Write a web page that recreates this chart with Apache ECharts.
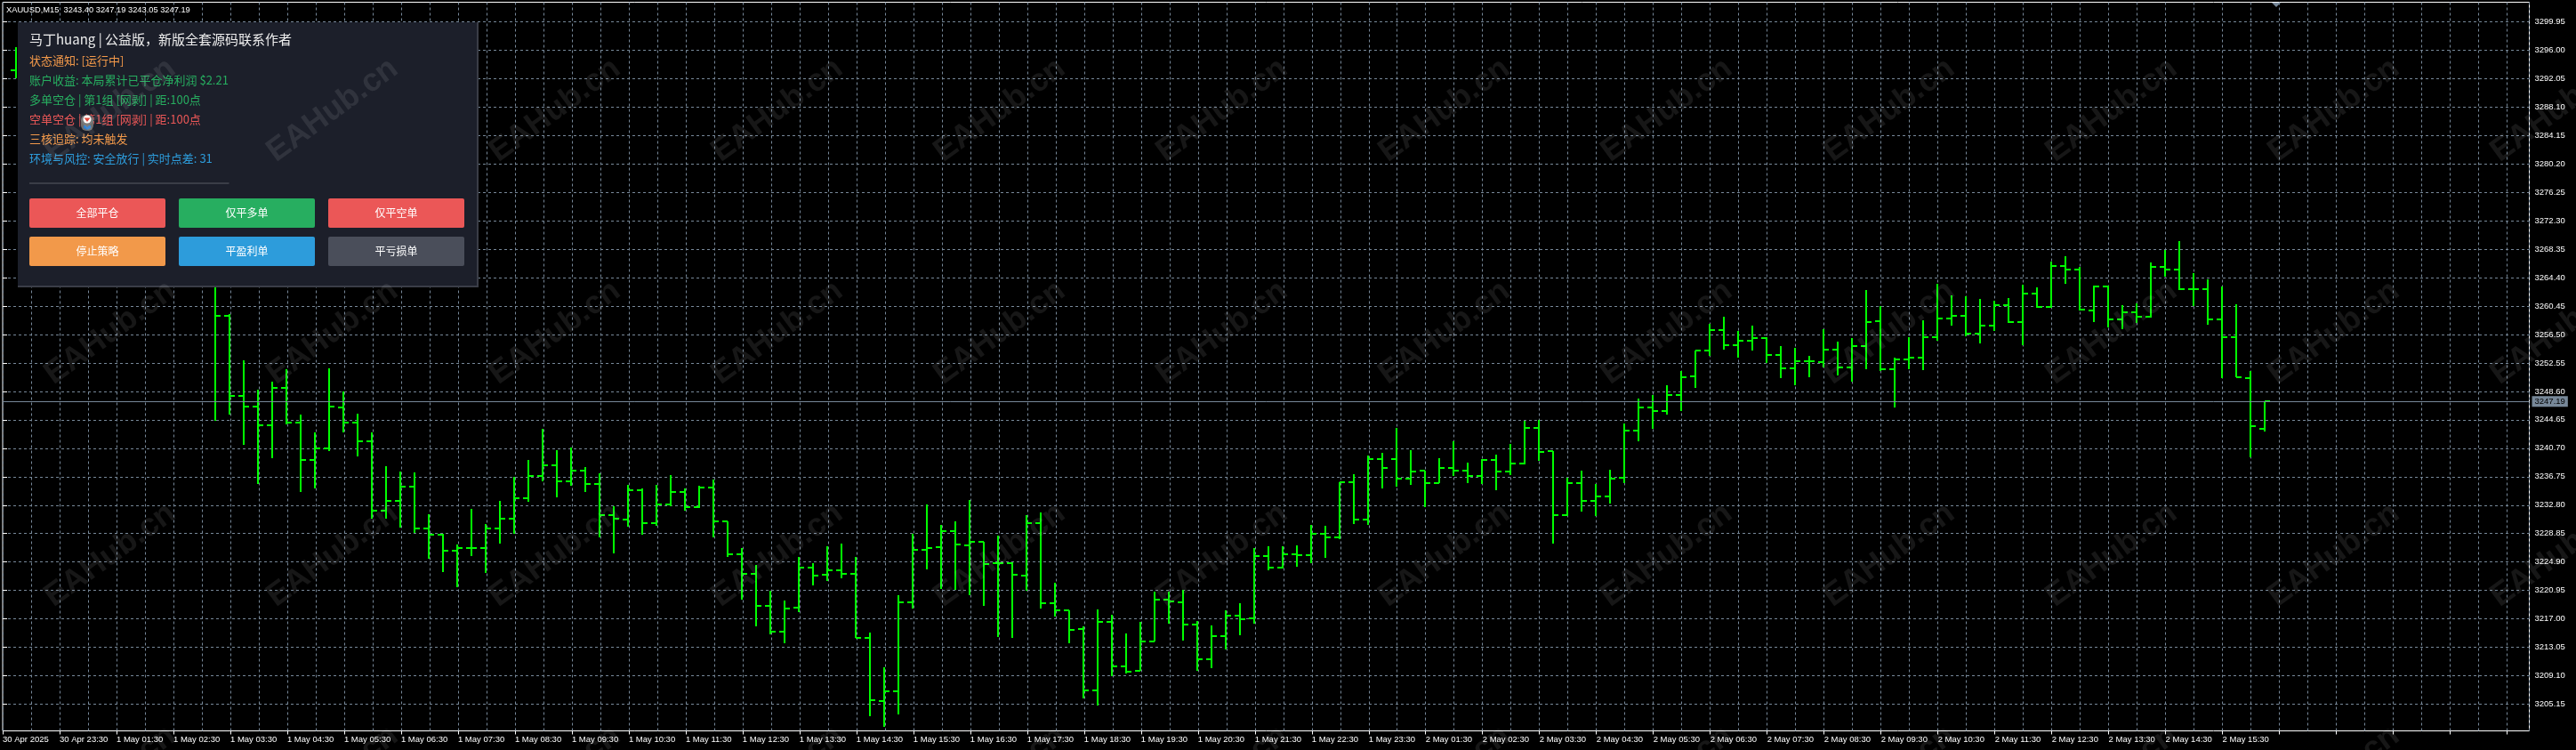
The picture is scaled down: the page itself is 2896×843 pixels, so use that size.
<!DOCTYPE html>
<html>
<head>
<meta charset="utf-8">
<title>XAUUSD,M15</title>
<style>html,body{margin:0;padding:0;background:#000;overflow:hidden}#chart{width:2896px;height:843px}</style>
<script src="https://cdn.jsdelivr.net/npm/echarts@6/dist/echarts.min.js"></script>
</head>
<body>
<div id="chart"></div>
<script>
// Bars 1..13 sit behind the panel and cannot be read, so they stay null.
const opens = [3293.23,null,null,null,null,null,null,null,null,null,null,null,null,null,null,
3259.04,3248.01,3246.52,3243.93,3249.12,3244.26,3239.07,3240.63,3246.40,3244.26,3241.70,3232.07,3233.38,3235.40,3229.59,
3228.73,3226.51,3226.88,3226.79,3229.59,3230.95,3233.80,3236.84,3238.37,3236.14,3237.63,3235.73,3231.45,3230.75,3234.83,
3230.34,3232.89,3234.66,3232.56,3235.28,3230.50,3226.01,3223.29,3218.85,3215.22,3218.60,3224.16,3223.17,3223.79,3223.29,
3214.36,3205.62,3206.98,3219.34,3226.63,3227.00,3229.23,3227.25,3227.74,3224.69,3224.78,3223.05,3230.34,3219.18,3218.23,
3215.55,3207.07,3216.58,3210.44,3209.78,3213.90,3219.67,3219.30,3216.25,3211.43,3214.60,3217.45,3217.12,3225.77,3224.12,
3225.97,3225.85,3228.81,3228.32,3236.03,3230.84,3239.24,3239.24,3236.52,3237.55,3235.90,3237.96,3237.63,3236.89,3239.03,
3237.51,3238.62,3243.56,3240.27,3231.41,3235.90,3233.43,3234.05,3236.64,3243.15,3246.36,3245.87,3248.13,3250.68,3254.27,
3257.15,3255.01,3255.67,3255.99,3253.65,3251.79,3252.78,3252.66,3254.43,3251.92,3254.88,3258.34,3251.67,3253.03,3253.32,
3256.12,3258.71,3259.13,3256.66,3257.77,3260.61,3258.22,3262.13,3260.32,3266.05,3265.47,3259.83,3263.16,3258.55,3259.62,
3258.95,3265.92,3265.55,3262.79,3262.79,3258.63,3256.16,3250.44,3243.40];
const highs = [3296.40,null,null,null,null,null,null,null,null,null,null,null,null,null,3266.00,
3259.29,3252.87,3248.79,3249.94,3251.63,3245.37,3242.90,3251.80,3248.58,3245.45,3242.90,3238.20,3237.46,3237.34,3231.53,
3228.81,3227.33,3232.23,3230.21,3233.34,3236.72,3239.07,3243.35,3240.43,3240.76,3238.04,3237.21,3232.60,3235.57,3235.07,
3235.57,3236.93,3235.16,3235.44,3236.35,3230.50,3226.84,3224.53,3220.95,3219.55,3225.60,3224.69,3227.08,3227.41,3225.60,
3215.06,3210.28,3220.25,3228.81,3232.85,3230.05,3230.54,3233.55,3227.74,3228.57,3224.90,3231.41,3231.78,3221.98,3218.23,
3215.96,3218.31,3217.57,3214.97,3216.62,3220.78,3220.78,3220.99,3216.70,3216.09,3218.15,3219.18,3226.88,3227.08,3227.08,
3227.21,3230.05,3229.97,3235.94,3237.05,3239.73,3240.02,3243.52,3240.43,3237.63,3239.28,3241.67,3238.70,3239.16,3239.77,
3241.26,3244.47,3244.63,3240.35,3236.64,3237.55,3235.78,3237.67,3244.14,3247.56,3248.05,3249.45,3251.39,3254.27,3257.97,
3258.96,3256.98,3257.72,3256.16,3254.88,3254.64,3253.52,3257.27,3255.50,3255.99,3262.67,3260.44,3253.24,3256.12,3258.47,
3263.53,3261.93,3261.80,3261.43,3261.15,3261.56,3263.41,3263.00,3266.62,3267.36,3265.84,3263.25,3263.33,3260.53,3260.77,
3266.46,3268.27,3269.42,3265.06,3264.11,3263.16,3260.65,3251.47,3247.19];
const lows = [3292.08,null,null,null,null,null,null,null,null,null,null,null,null,null,3244.55,
3245.37,3241.17,3235.73,3239.32,3243.97,3234.66,3235.07,3240.34,3242.94,3239.60,3230.95,3230.95,3229.72,3228.98,3225.31,
3223.54,3221.36,3225.68,3223.42,3227.41,3228.81,3233.30,3236.14,3233.92,3235.53,3234.66,3228.32,3226.05,3229.76,3228.65,
3229.97,3232.68,3232.02,3232.44,3228.32,3225.60,3219.67,3216.00,3214.81,3213.66,3217.98,3221.69,3222.26,3222.68,3214.32,
3203.52,3202.04,3203.77,3218.48,3223.91,3221.15,3220.99,3220.29,3218.85,3214.48,3214.40,3220.91,3218.48,3217.28,3213.66,
3206.00,3205.01,3209.00,3209.46,3209.78,3213.82,3216.38,3213.99,3209.74,3210.20,3212.75,3214.77,3216.38,3223.79,3224.04,
3224.28,3224.74,3225.52,3228.12,3230.22,3230.09,3235.16,3235.41,3235.65,3232.57,3235.82,3236.89,3235.90,3235.74,3234.87,
3236.97,3238.50,3238.91,3227.50,3231.29,3231.91,3231.25,3233.06,3235.82,3241.71,3243.44,3245.42,3245.87,3249.12,3253.52,
3254.43,3253.32,3254.31,3252.58,3250.48,3249.49,3250.60,3251.96,3250.81,3249.94,3251.71,3251.46,3246.40,3251.71,3251.59,
3255.67,3257.77,3256.29,3255.30,3257.03,3258.06,3255.01,3260.20,3260.24,3263.58,3259.79,3258.26,3257.44,3257.27,3258.06,
3258.88,3264.48,3262.67,3260.45,3257.89,3250.48,3250.52,3239.44,3243.05];
const closes = [null,null,null,null,null,null,null,null,null,null,null,null,null,null,3259.04,
3248.01,3246.52,3243.93,3249.12,3244.26,3239.07,3240.63,3246.52,3244.26,3241.70,3232.07,3233.38,3235.40,3229.59,3228.73,
3226.51,3226.88,3226.79,3229.59,3230.95,3233.80,3236.84,3238.37,3236.14,3237.63,3235.73,3231.45,3230.87,3234.83,3230.34,
3232.89,3234.66,3232.56,3235.28,3230.50,3226.01,3223.29,3218.85,3215.22,3218.48,3224.16,3223.05,3223.79,3223.29,3214.36,
3205.75,3206.98,3219.34,3226.63,3226.84,3229.23,3227.33,3227.74,3224.61,3224.78,3223.13,3230.34,3219.18,3218.23,3215.47,
3207.07,3216.58,3210.44,3209.70,3213.90,3219.67,3219.46,3216.25,3211.43,3214.60,3217.45,3216.95,3225.77,3224.12,3225.97,
3225.89,3228.81,3228.32,3235.94,3230.84,3239.24,3237.96,3236.52,3237.51,3235.90,3237.96,3237.63,3236.89,3239.03,3237.51,
3238.62,3243.56,3240.19,3231.41,3235.90,3233.43,3234.05,3236.52,3243.15,3246.36,3245.87,3248.13,3250.61,3254.27,3257.15,
3255.01,3255.67,3255.99,3253.65,3251.79,3252.78,3252.74,3254.43,3251.92,3254.88,3258.22,3251.67,3253.03,3253.32,3256.12,
3258.71,3259.13,3256.66,3257.77,3260.61,3258.22,3262.13,3260.32,3266.05,3265.47,3259.91,3263.16,3258.55,3259.62,3259.00,
3265.92,3265.55,3262.79,3262.79,3258.63,3256.16,3250.56,3243.81,3247.19];

const priceTicks = [3299.95,3296.00,3292.05,3288.10,3284.15,3280.20,3276.25,3272.30,3268.35,3264.40,3260.45,3256.50,3252.55,
3248.60,3244.65,3240.70,3236.75,3232.80,3228.85,3224.90,3220.95,3217.00,3213.05,3209.10,3205.15];
const timeLabels = ['30 Apr 2025','30 Apr 23:30','1 May 01:30','1 May 02:30','1 May 03:30','1 May 04:30','1 May 05:30','1 May 06:30',
'1 May 07:30','1 May 08:30','1 May 09:30','1 May 10:30','1 May 11:30','1 May 12:30','1 May 13:30','1 May 14:30','1 May 15:30',
'1 May 16:30','1 May 17:30','1 May 18:30','1 May 19:30','1 May 20:30','1 May 21:30','1 May 22:30','1 May 23:30','2 May 01:30',
'2 May 02:30','2 May 03:30','2 May 04:30','2 May 05:30','2 May 06:30','2 May 07:30','2 May 08:30','2 May 09:30','2 May 10:30',
'2 May 11:30','2 May 12:30','2 May 13:30','2 May 14:30','2 May 15:30'];
const lastPrice = 3247.19;
const headerText = 'XAUUSD,M15  3243.40 3247.19 3243.05 3247.19';
const panelTitle = '马丁huang | 公益版，新版全套源码联系作者';
const panelLines = ['状态通知: [运行中]','账户收益: 本局累计已平仓净利润 $2.21','多单空仓 | 第1组 [网剥] | 距:100点','空单空仓 | 第1组 [网剥] | 距:100点','三核追踪: 均未触发','环境与风控: 安全放行 | 实时点差: 31'];
const panelLineColors = ['#F2994A','#27AE60','#27AE60','#EB5757','#F2994A','#2D9CDB'];
const buttonLabels = ['全部平仓','仅平多单','仅平空单','停止策略','平盈利单','平亏损单'];
const buttonColors = ['#EB5757','#27AE60','#EB5757','#F2994A','#2D9CDB','#4A4E5A'];
const watermark = 'EAHub.cn';

const MONO = '"Liberation Sans", Arial, sans-serif';
const CJK = '"Noto Sans CJK SC", "Noto Sans", sans-serif';
const GREEN = '#00ff00', GRID = '#778899';

const bars = opens.map((o, i) => [i + 1,
  o === null ? NaN : o, highs[i] === null ? NaN : highs[i],
  lows[i] === null ? NaN : lows[i], closes[i] === null ? NaN : closes[i]]);

function renderBar(params, api) {
  const pos = api.value(0), o = api.value(1), h = api.value(2), l = api.value(3), c = api.value(4);
  if (isNaN(h) || isNaN(l)) return null;
  const x = Math.floor(api.coord([pos, h])[0]);
  const yh = Math.round(api.coord([pos, h])[1]);
  const yl = Math.round(api.coord([pos, l])[1]);
  const style = { fill: GREEN };
  const children = [{ type: 'rect', shape: { x: x - 1, y: yh, width: 2, height: Math.max(yl - yh, 1) }, style }];
  if (!isNaN(o)) children.push({ type: 'rect', shape: { x: x - 6, y: Math.round(api.coord([pos, o])[1]) - 1, width: 6, height: 2 }, style });
  if (!isNaN(c)) children.push({ type: 'rect', shape: { x: x, y: Math.round(api.coord([pos, c])[1]) - 1, width: 6, height: 2 }, style });
  return { type: 'group', children };
}

const graphics = [];
graphics.push({ type: 'text', x: 7, y: 11, z: 20, silent: true,
  style: { text: headerText, fill: '#fff', font: '9.3px ' + MONO, textVerticalAlign: 'middle', textAlign: 'left' } });
graphics.push({ type: 'polygon', z: 20, silent: true, shape: { points: [[2554, 3], [2564, 3], [2559, 8]] }, style: { fill: GRID } });
graphics.push({ type: 'rect', z: 30, silent: true, shape: { x: 20, y: 25, width: 518, height: 298 }, style: { fill: '#3A3D47' } });
graphics.push({ type: 'rect', z: 31, silent: true, shape: { x: 20, y: 25, width: 516, height: 296 }, style: { fill: '#1C1F2A' } });
graphics.push({ type: 'text', x: 33, y: 44, z: 32, silent: true,
  style: { text: panelTitle, fill: '#EDEDED', font: '15px ' + CJK, textVerticalAlign: 'middle' } });
panelLines.forEach((t, i) => graphics.push({ type: 'text', x: 33, y: 68.3 + 22 * i, z: 32, silent: true,
  style: { text: t, fill: panelLineColors[i], font: '13px ' + CJK, textVerticalAlign: 'middle' } }));
graphics.push({ type: 'rect', z: 32, silent: true, shape: { x: 33, y: 205, width: 224.5, height: 2 }, style: { fill: '#3A3D47' } });
buttonLabels.forEach((t, i) => {
  const col = i % 3, row = Math.floor(i / 3);
  graphics.push({ type: 'rect', z: 32, silent: true,
    shape: { x: 33 + 168 * col, y: 223 + 43 * row, width: 153, height: 33, r: 2 },
    style: { fill: buttonColors[i] },
    textContent: { style: { text: t, fill: '#fff', font: '12px ' + CJK }, z: 33 },
    textConfig: { position: 'inside' } });
});
graphics.push({ type: 'rect', z: 34, silent: true, shape: { x: 91, y: 129, width: 14, height: 18, r: 6 }, style: { fill: '#6E6E6E' } });
graphics.push({ type: 'circle', z: 35, silent: true, shape: { cx: 98, cy: 134, r: 4.5 }, style: { fill: '#fff' } });
graphics.push({ type: 'polygon', z: 36, silent: true, shape: { points: [[94.5, 132.5], [101.5, 132.5], [98, 137]] }, style: { fill: '#E0463A' } });
graphics.push({ type: 'polygon', z: 35, silent: true, shape: { points: [[94, 141], [96, 141], [98, 143], [100, 141], [102, 141], [102, 144], [98, 146], [94, 144]] }, style: { fill: '#2F7FD0' } });
for (let r = 0; r < 4; r++) for (let c = 0; c < 12; c++) {
  graphics.push({ type: 'text', x: 124 + 250 * c, y: 124 + 250 * r, rotation: 0.63, z: 50, silent: true,
    style: { text: watermark, fill: 'rgba(255,255,255,0.09)', font: 'bold 36px ' + MONO, textAlign: 'center', textVerticalAlign: 'middle' } });
}

const chart = echarts.init(document.getElementById('chart'), null, { renderer: 'canvas' });
chart.setOption({
  animation: false,
  backgroundColor: '#000',
  grid: { left: 2.5, top: 2.5, right: 52.5, bottom: 21.5, show: true, borderColor: '#fff', borderWidth: 1, backgroundColor: '#000' },
  xAxis: {
    type: 'value', min: 0, max: 177.56, interval: 4, scale: false,
    axisLine: { show: false },
    axisTick: { show: true, length: 4, lineStyle: { color: '#fff' } },
    axisLabel: { show: true, color: '#fff', fontFamily: MONO, fontSize: 9.5, align: 'left', margin: 5, showMinLabel: true, showMaxLabel: false,
      formatter: v => timeLabels[v / 4] || '' },
    splitLine: { show: true, lineStyle: { color: GRID, type: [3, 3], width: 1 } },
    minorTick: { show: false, splitNumber: 2 },
    minorSplitLine: { show: true, lineStyle: { color: GRID, type: [3, 3], width: 1 } }
  },
  yAxis: {
    type: 'value', position: 'right', min: 3201.45, max: 3302.64, scale: true,
    axisLine: { show: false },
    axisTick: { show: true, length: 5, lineStyle: { color: '#fff' }, customValues: priceTicks },
    axisLabel: { show: true, color: '#fff', fontFamily: MONO, fontSize: 9.5, margin: 6, customValues: priceTicks, formatter: v => v.toFixed(2) },
    splitLine: { show: true, lineStyle: { color: GRID, type: [3, 3], width: 1 } }
  },
  series: [{
    type: 'custom', name: 'XAUUSD', clip: true, silent: true,
    encode: { x: 0, y: [1, 2, 3, 4] },
    data: bars, renderItem: renderBar, z: 5,
    markLine: {
      silent: true, symbol: 'none', animation: false, z: 6,
      lineStyle: { color: GRID, type: 'solid', width: 1 },
      label: { show: true, position: 'end', distance: 3, formatter: () => lastPrice.toFixed(2), color: '#000',
        backgroundColor: GRID, padding: [1, 3], fontFamily: MONO, fontSize: 9.5 },
      data: [{ yAxis: lastPrice }]
    }
  }],
  graphic: { elements: graphics }
});
</script>
</body>
</html>
